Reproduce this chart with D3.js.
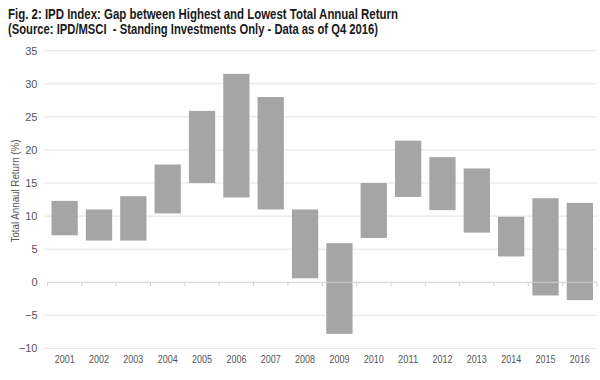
<!DOCTYPE html>
<html><head><meta charset="utf-8">
<script src="https://cdn.jsdelivr.net/npm/d3@7/dist/d3.min.js"></script>
<style>
body{margin:0;background:#fff;}
svg{display:block;}
.title{font-family:"Liberation Sans",Arial,sans-serif;font-size:14px;font-weight:bold;fill:#1a1a1a;}
.ylab{font-family:"Liberation Sans",Arial,sans-serif;font-size:11px;fill:#555;}
</style></head>
<body>
<script>
const years = ["2001","2002","2003","2004","2005","2006","2007","2008","2009","2010","2011","2012","2013","2014","2015","2016"];
const lowest  = [7.1, 6.3, 6.3, 10.4, 15.0, 12.8, 11.0, 0.6, -7.8, 6.7, 12.9, 10.9, 7.5, 3.9, -2.0, -2.7];
const highest = [12.3, 11.0, 13.0, 17.8, 25.9, 31.5, 28.0, 11.0, 5.9, 15.0, 21.4, 18.9, 17.2, 9.9, 12.7, 12.0];
const yTicks = [-10,-5,0,5,10,15,20,25,30,35];
const titleLines = ["Fig. 2: IPD Index: Gap between Highest and Lowest Total Annual Return",
                    "(Source: IPD/MSCI  - Standing Investments Only - Data as of Q4 2016)"];
const yLabel = "Total Annaul Return (%)";

(function(){
const FONT='"Liberation Sans",Arial,sans-serif';
const W=600,H=380;
const svg=d3.select("body").append("svg").attr("width",W).attr("height",H);
const pL=47.5,pR=597,pT=50.7,pB=348.4;
const x=d3.scaleBand().domain(years).range([pL,pR]).paddingInner(0.235).paddingOuter(0.117);
const y=d3.scaleLinear().domain([-10,35]).range([pB,pT]);
const titleW=[390,370];

svg.selectAll("text.title").data(titleLines).enter().append("text")
  .attr("class","title").attr("x",8).attr("y",(d,i)=>19+i*15)
  .attr("textLength",(d,i)=>titleW[i]).attr("lengthAdjust","spacingAndGlyphs")
  .attr("xml:space","preserve").text(d=>d);

svg.append("g").selectAll("line").data(yTicks.filter(d=>d!==0)).enter().append("line")
  .attr("x1",pL-3).attr("x2",pR).attr("y1",d=>y(d)).attr("y2",d=>y(d))
  .attr("stroke","#e2e2e2").attr("stroke-width",1);

const ya=svg.append("g").attr("transform",`translate(${pL-10},0)`)
  .call(d3.axisLeft(y).tickValues(yTicks).tickSize(0).tickPadding(0));
ya.select(".domain").remove();
ya.selectAll("text").style("font-family",FONT).style("font-size","11px").attr("fill","#555");

svg.append("g").selectAll("rect").data(years).enter().append("rect")
  .attr("x",d=>x(d)).attr("width",x.bandwidth())
  .attr("y",(d,i)=>y(highest[i])).attr("height",(d,i)=>y(lowest[i])-y(highest[i]))
  .attr("fill","#a5a5a5");

const z=svg.append("g");
z.append("line").attr("x1",pL).attr("x2",pR).attr("y1",y(0)).attr("y2",y(0)).attr("stroke","#cfcfcf").attr("stroke-width",1.2);
const bounds=d3.range(years.length+1).map(i=>pL+i*(pR-pL)/years.length);
z.selectAll("line.tk").data(bounds).enter().append("line").attr("class","tk")
  .attr("x1",d=>d).attr("x2",d=>d).attr("y1",y(0)).attr("y2",y(0)+4).attr("stroke","#cfcfcf");

const xa=svg.append("g").attr("transform",`translate(0,${pB+4})`)
  .call(d3.axisBottom(x).tickSize(0).tickPadding(3));
xa.select(".domain").remove();
xa.selectAll("text").style("font-family",FONT).style("font-size","11px").attr("fill","#555")
  .attr("textLength",20).attr("lengthAdjust","spacingAndGlyphs");

svg.append("text").attr("class","ylab").attr("transform","translate(19,191) rotate(-90)")
  .attr("text-anchor","middle").attr("textLength",103).attr("lengthAdjust","spacingAndGlyphs").text(yLabel);
})();
</script>
</body></html>
